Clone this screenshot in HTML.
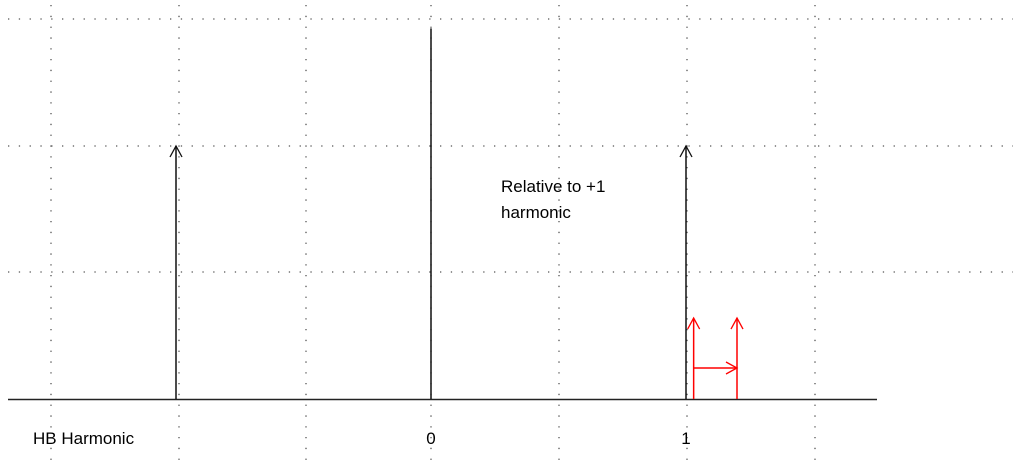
<!DOCTYPE html>
<html><head><meta charset="utf-8"><style>
html,body{margin:0;padding:0;background:#fff;}
svg{display:block;font-family:"Liberation Sans",sans-serif;}
</style></head><body>
<svg id="chart" width="1013" height="466">
<g id="grid"></g>
<g id="marks"></g>
<text x="33" y="444" font-size="17">HB Harmonic</text>
<text x="501" y="192" font-size="17">Relative to +1</text>
<text x="501" y="218" font-size="17">harmonic</text>
</svg>
<script>
const harmonics = [-1, 0, 1];
const amplitudes = [2, 2.93, 2];
const arrowHeads = [true, false, true];
const sideHarmonics = [1.03, 1.2];
const sideAmplitudes = [0.64, 0.64];
const tickValues = [0, 1];
const tickLabels = ["0", "1"];

const NS = "http://www.w3.org/2000/svg";
const xS = v => 431 + v * 255;
const yS = v => 399 - v * 126.5;
function mk(tag, attrs, parent){const e=document.createElementNS(NS,tag);for(const k in attrs)e.setAttribute(k,attrs[k]);parent.appendChild(e);return e;}
const grid = document.getElementById('grid');
const marks = document.getElementById('marks');
// grid
[51,179,306,431,559,687,815].forEach(x=>{
  const l=mk('line',{x1:x,y1:5,x2:x,y2:466,stroke:'#555','stroke-width':1.3,'stroke-dasharray':'1.3 9.5'},grid);
  
  
});
[19,146,272].forEach(y=>{
  const l=mk('line',{x1:8,y1:y,x2:1013,y2:y,stroke:'#555','stroke-width':1.3,'stroke-dasharray':'1.3 9.5'},grid);
  
  
});
const ax=mk('line',{x1:8,y1:399.5,x2:877,y2:399.5,stroke:'#222','stroke-width':1.6},marks);


tickValues.forEach((v,i)=>{
  const t=mk('text',{x:xS(v),y:444,'font-size':17,'text-anchor':'middle'},marks);
  t.textContent=tickLabels[i];
  
  
});
function arrow(x,y0,y1,color,head,name){
  const g=mk('g',{},marks);
  
  
  mk('line',{x1:x,y1:y0,x2:x,y2:y1,stroke:color,'stroke-width':1.5},g);
  if(head) mk('polyline',{points:`${x-6},${y1+11} ${x},${y1} ${x+6},${y1+11}`,fill:'none',stroke:color,'stroke-width':1.3},g);
}
harmonics.forEach((h,i)=>arrow(xS(h),399,yS(amplitudes[i]),'#111',arrowHeads[i],'harmonic-arrow'));
sideHarmonics.forEach((h,i)=>arrow(xS(h),399,yS(sideAmplitudes[i]),'#f00',true,'offset-arrow'));
const hy=368, hx0=xS(sideHarmonics[0]), hx1=xS(sideHarmonics[1]);
const hg=mk('g',{},marks);


mk('line',{x1:hx0,y1:hy,x2:hx1,y2:hy,stroke:'#f00','stroke-width':1.4},hg);
mk('polyline',{points:`${hx1-11},${hy-6} ${hx1},${hy} ${hx1-11},${hy+6}`,fill:'none',stroke:'#f00','stroke-width':1.3},hg);
</script>
</body></html>
